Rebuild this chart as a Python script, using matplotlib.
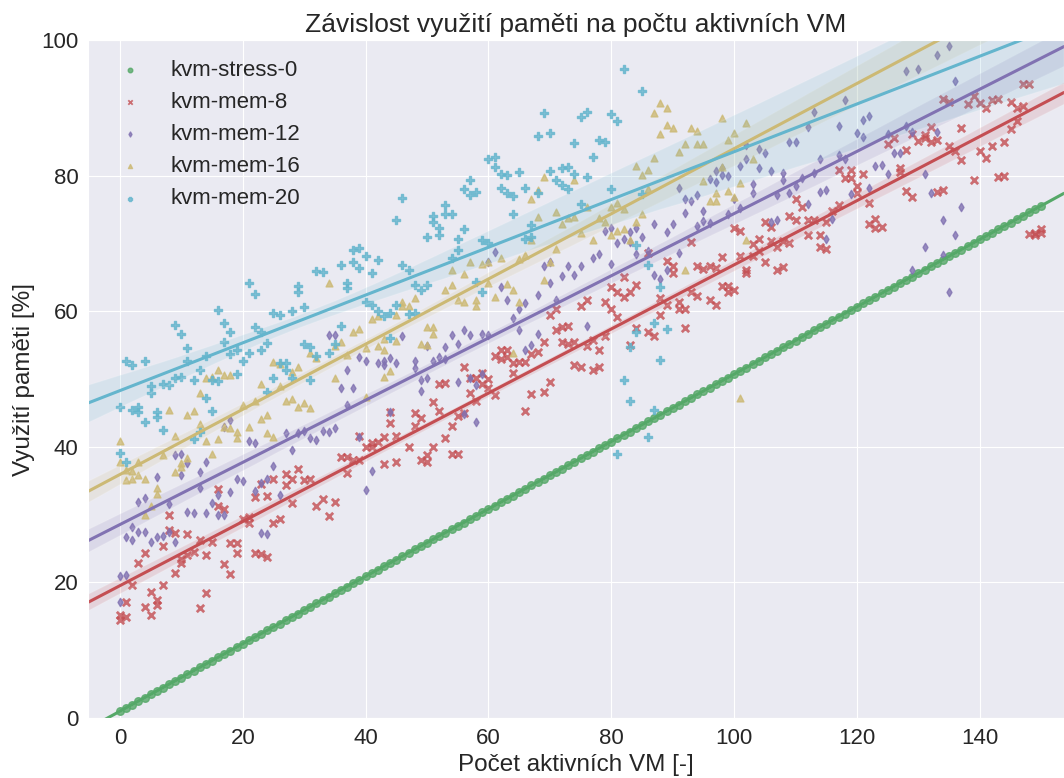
import matplotlib
matplotlib.use('Agg')
import matplotlib.pyplot as plt
import seaborn as sns

sns.set_style('darkgrid')
plt.rcParams['font.family'] = ['Liberation Sans', 'DejaVu Sans']

# kvm-stress-0: one sample per VM count, 0..150
stress_y = [1.00, 1.50, 1.99, 2.49, 2.99, 3.49, 3.98, 4.48, 4.98, 5.47,
            5.97, 6.47, 6.96, 7.46, 7.96, 8.46, 8.95, 9.45, 9.95, 10.44,
            10.94, 11.44, 11.93, 12.43, 12.93, 13.43, 13.92, 14.42, 14.92, 15.41,
            15.91, 16.41, 16.90, 17.40, 17.90, 18.40, 18.89, 19.39, 19.89, 20.38,
            20.88, 21.38, 21.87, 22.37, 22.87, 23.37, 23.86, 24.36, 24.86, 25.35,
            25.85, 26.35, 26.84, 27.34, 27.84, 28.34, 28.83, 29.33, 29.83, 30.32,
            30.82, 31.32, 31.81, 32.31, 32.81, 33.31, 33.80, 34.30, 34.80, 35.29,
            35.79, 36.29, 36.78, 37.28, 37.78, 38.28, 38.77, 39.27, 39.77, 40.26,
            40.76, 41.26, 41.75, 42.25, 42.75, 43.25, 43.74, 44.24, 44.74, 45.23,
            45.73, 46.23, 46.72, 47.22, 47.72, 48.22, 48.71, 49.21, 49.71, 50.20,
            50.70, 51.20, 51.69, 52.19, 52.69, 53.19, 53.68, 54.18, 54.68, 55.17,
            55.67, 56.17, 56.66, 57.16, 57.66, 58.16, 58.65, 59.15, 59.65, 60.14,
            60.64, 61.14, 61.63, 62.13, 62.63, 63.13, 63.62, 64.12, 64.62, 65.11,
            65.61, 66.11, 66.60, 67.10, 67.60, 68.10, 68.59, 69.09, 69.59, 70.08,
            70.58, 71.08, 71.57, 72.07, 72.57, 73.07, 73.56, 74.06, 74.56, 75.05, 75.55]
stress_x = list(range(len(stress_y)))

mem8_pts = [
    (0, 15.2), (0, 14.5), (1, 17.1), (1, 14.9), (2, 19.6), (3, 22.9), (4, 24.4), (4, 16.3), (5, 18.6), (5, 15.2),
    (6, 17.4), (6, 16.6), (7, 19.6), (7, 25.4), (8, 29.9), (8, 27.7), (9, 27.3), (9, 21.4), (10, 23.5), (10, 22.9),
    (11, 27.2), (11, 24.0), (12, 24.5), (13, 16.2), (13, 26.2), (14, 24.0), (14, 18.4), (15, 26.0), (16, 33.8), (16, 31.2),
    (17, 30.9), (17, 22.7), (18, 25.8), (18, 21.2), (19, 25.8), (19, 24.3), (20, 29.4), (21, 28.7), (21, 29.7), (22, 32.6),
    (22, 24.4), (23, 34.5), (23, 24.2), (24, 32.7), (24, 23.7), (25, 35.2), (25, 28.8), (26, 29.3), (27, 36.0), (27, 34.4),
    (28, 35.2), (28, 31.7), (29, 36.8), (30, 35.1), (31, 35.2), (32, 31.3), (33, 32.3), (34, 29.8), (35, 31.9), (36, 38.5),
    (37, 38.5), (37, 36.2), (38, 38.1), (39, 41.6), (39, 38.0), (40, 40.0), (41, 40.6), (41, 40.0), (42, 40.7), (43, 41.4),
    (43, 37.5), (44, 45.2), (44, 43.5), (45, 41.6), (45, 37.8), (47, 40.0), (48, 45.0), (48, 43.0), (49, 44.2), (49, 38.0),
    (50, 37.7), (50, 38.8), (51, 40.0), (51, 46.6), (52, 45.3), (52, 49.3), (53, 49.4), (53, 41.3), (54, 43.0), (54, 39.0),
    (55, 39.0), (55, 44.5), (56, 45.0), (56, 51.8), (57, 47.9), (57, 50.2), (58, 50.1), (58, 46.8), (59, 49.3), (59, 50.9),
    (60, 50.0), (60, 48.6), (61, 47.6), (61, 53.4), (62, 54.3), (62, 53.0), (63, 54.3), (63, 53.3), (64, 50.9), (64, 52.3),
    (65, 52.5), (66, 45.3), (66, 52.5), (67, 47.8), (67, 53.7), (68, 54.0), (69, 48.1), (69, 55.5), (70, 49.5), (70, 59.4),
    (71, 57.3), (71, 60.3), (72, 57.7), (72, 55.5), (73, 57.8), (73, 55.2), (74, 55.5), (74, 52.1), (75, 60.7), (75, 51.7),
    (76, 61.7), (76, 54.8), (77, 55.8), (77, 51.4), (78, 54.3), (78, 51.7), (79, 61.3), (79, 56.4), (80, 63.5), (80, 60.3),
    (81, 62.8), (81, 59.1), (82, 65.1), (82, 62.1), (83, 62.9), (83, 55.0), (84, 63.9), (84, 57.5), (86, 68.6), (86, 56.9),
    (87, 56.3), (88, 61.9), (88, 59.4), (89, 67.4), (89, 60.9), (90, 66.7), (90, 65.6), (91, 61.4), (91, 60.3), (92, 60.3),
    (92, 57.5), (93, 70.2), (93, 62.9), (94, 66.7), (94, 62.3), (95, 66.2), (96, 66.7), (96, 61.7), (97, 60.9), (97, 66.3),
    (98, 68.0), (98, 63.7), (99, 63.7), (99, 62.9), (100, 72.2), (100, 63.2), (101, 71.9), (101, 68.1), (102, 66.1), (102, 65.6),
    (103, 69.9), (103, 68.1), (104, 70.6), (104, 68.9), (105, 73.2), (105, 67.3), (106, 72.4), (106, 70.3), (107, 69.4), (107, 66.1),
    (108, 70.3), (108, 66.5), (109, 74.1), (109, 70.1), (110, 76.5), (110, 73.5), (111, 75.3), (112, 73.5), (112, 71.3), (113, 73.5),
    (114, 71.3), (114, 69.4), (115, 73.2), (115, 69.1), (116, 74.8), (117, 75.6), (117, 80.8), (118, 79.6), (119, 80.8), (119, 79.6),
    (120, 78.4), (120, 77.4), (121, 80.3), (122, 76.0), (122, 72.8), (123, 73.6), (123, 72.2), (124, 72.4), (125, 84.7), (126, 85.6),
    (127, 81.1), (127, 80.5), (128, 83.8), (128, 77.8), (129, 86.2), (129, 76.9), (130, 85.1), (131, 86.0), (131, 85.6), (132, 87.1),
    (132, 85.0), (133, 85.2), (133, 77.6), (134, 91.3), (134, 77.9), (135, 90.8), (135, 84.4), (136, 83.6), (137, 87.0), (137, 82.3),
    (138, 90.6), (139, 91.7), (139, 79.3), (140, 83.6), (140, 90.7), (141, 82.6), (141, 89.9), (142, 91.2), (142, 84.3), (143, 91.3),
    (143, 79.8), (144, 85.0), (144, 79.9), (145, 90.8), (145, 86.8), (146, 90.0), (146, 88.0), (147, 93.5), (147, 90.2), (148, 93.5),
    (148, 71.4), (149, 71.6), (149, 71.2), (150, 72.1), (150, 71.5)]

mem12_pts = [
    (0, 20.9), (1, 21.1), (0, 17.1), (1, 26.7), (2, 26.3), (2, 28.2), (3, 27.4), (4, 27.4), (3, 31.9), (4, 32.5),
    (5, 26.0), (6, 26.7), (6, 35.6), (7, 26.9), (8, 27.4), (8, 31.6), (9, 26.0), (9, 38.8), (10, 38.9), (10, 35.8),
    (11, 37.6), (11, 30.4), (12, 30.2), (13, 36.3), (13, 33.9), (14, 37.8), (14, 30.2), (15, 31.7), (16, 32.9), (16, 29.9),
    (17, 30.0), (17, 42.9), (18, 33.4), (18, 43.9), (19, 35.2), (20, 34.9), (21, 40.9), (22, 40.5), (22, 33.5), (23, 34.6),
    (23, 27.3), (24, 35.2), (24, 27.2), (25, 37.1), (26, 32.9), (27, 42.0), (28, 39.6), (29, 42.0), (30, 42.4), (31, 41.3),
    (32, 41.0), (33, 42.4), (34, 42.2), (34, 56.5), (35, 42.7), (35, 56.5), (36, 48.6), (37, 46.2), (37, 51.3), (38, 48.6),
    (39, 41.5), (39, 53.3), (40, 33.6), (40, 52.6), (41, 36.5), (42, 52.4), (43, 52.6), (43, 52.1), (44, 45.2), (44, 53.1),
    (45, 52.4), (46, 56.3), (48, 52.7), (48, 51.6), (49, 49.9), (49, 48.3), (50, 50.1), (50, 54.9), (51, 52.7), (52, 53.2),
    (53, 54.7), (53, 53.0), (54, 56.5), (55, 49.6), (55, 55.2), (56, 44.9), (56, 57.2), (57, 50.1), (57, 56.5), (58, 49.1),
    (58, 43.7), (59, 50.8), (59, 56.6), (60, 56.5), (60, 67.3), (61, 68.8), (62, 63.5), (63, 61.6), (64, 59.0), (65, 57.2),
    (65, 60.3), (66, 61.2), (66, 54.3), (67, 55.0), (68, 62.4), (68, 56.6), (69, 66.7), (70, 67.3), (70, 64.2), (71, 61.7),
    (72, 65.2), (73, 66.7), (74, 65.4), (75, 66.6), (76, 57.8), (77, 67.9), (78, 68.5), (79, 71.9), (80, 72.2), (80, 67.0),
    (81, 70.0), (82, 70.6), (83, 71.7), (83, 70.2), (84, 72.3), (84, 68.5), (85, 71.0), (86, 68.9), (87, 72.8), (87, 65.4),
    (88, 64.7), (89, 71.7), (89, 66.1), (90, 72.9), (91, 78.1), (91, 68.6), (92, 76.5), (92, 74.5), (93, 76.3), (94, 77.1),
    (94, 72.6), (95, 74.8), (95, 73.3), (96, 79.5), (96, 73.0), (97, 80.7), (97, 79.1), (98, 81.1), (98, 80.1), (99, 80.0),
    (99, 74.4), (100, 76.5), (101, 81.4), (101, 75.2), (102, 82.5), (102, 84.5), (103, 78.7), (103, 77.4), (104, 83.9), (104, 81.1),
    (105, 83.3), (106, 80.7), (106, 73.2), (107, 77.1), (107, 73.5), (108, 80.4), (108, 79.4), (109, 85.0), (109, 77.4), (110, 84.9),
    (110, 78.4), (111, 79.7), (112, 87.1), (112, 75.8), (113, 89.4), (113, 80.4), (114, 82.5), (114, 77.6), (115, 77.9), (115, 70.6),
    (116, 73.6), (117, 87.3), (117, 83.0), (118, 91.2), (118, 82.4), (119, 77.3), (120, 86.3), (121, 88.2), (121, 85.7), (122, 88.8),
    (122, 78.2), (123, 81.4), (124, 81.6), (125, 86.2), (125, 80.2), (126, 83.4), (127, 83.4), (128, 87.3), (128, 95.5), (129, 86.5),
    (129, 66.1), (130, 95.7), (131, 80.3), (131, 69.4), (132, 77.5), (133, 97.8), (133, 86.5), (134, 73.4), (134, 68.3), (135, 99.1),
    (135, 62.8), (136, 93.9), (136, 71.2), (137, 75.4)]

mem16_pts = [
    (0, 40.8), (0, 37.8), (1, 36.6), (1, 35.1), (2, 36.5), (2, 35.2), (3, 35.9), (3, 37.7), (4, 35.2), (4, 30.0),
    (5, 31.3), (6, 33.9), (6, 33.1), (7, 38.8), (8, 45.5), (9, 41.6), (9, 36.3), (10, 37.6), (10, 37.0), (11, 38.3),
    (11, 44.7), (12, 45.3), (13, 48.0), (13, 43.3), (14, 40.8), (14, 50.1), (15, 38.9), (15, 50.3), (16, 41.1), (16, 51.3),
    (17, 42.9), (17, 50.6), (18, 42.8), (18, 50.6), (19, 41.3), (19, 42.2), (20, 46.2), (21, 42.9), (22, 46.8), (23, 49.3),
    (23, 44.1), (24, 44.7), (24, 42.1), (25, 41.5), (25, 52.5), (26, 49.0), (26, 52.2), (27, 46.7), (28, 47.0), (28, 51.1),
    (29, 45.9), (29, 51.7), (30, 46.5), (31, 45.7), (31, 53.8), (32, 53.1), (34, 64.1), (35, 54.8), (35, 50.2), (36, 55.5),
    (37, 53.5), (38, 56.9), (39, 57.4), (40, 54.5), (40, 47.4), (41, 58.8), (42, 59.3), (42, 54.8), (43, 54.3), (43, 55.9),
    (43, 50.3), (44, 51.2), (45, 59.5), (45, 55.6), (46, 61.4), (46, 60.7), (47, 60.8), (48, 61.9), (49, 55.1), (50, 55.0),
    (50, 57.6), (51, 57.6), (51, 56.6), (53, 63.1), (54, 63.9), (54, 66.1), (55, 61.7), (56, 61.4), (56, 65.5), (57, 67.3),
    (58, 61.7), (58, 60.8), (59, 67.0), (60, 67.3), (60, 64.2), (61, 62.1), (62, 67.8), (63, 64.0), (64, 63.2), (64, 53.8),
    (65, 61.4), (65, 67.7), (66, 68.3), (67, 76.5), (67, 70.5), (68, 77.9), (68, 73.9), (69, 79.8), (69, 64.6), (70, 67.2),
    (71, 74.6), (71, 69.2), (72, 72.9), (73, 73.7), (74, 79.3), (74, 73.9), (75, 71.6), (76, 75.3), (77, 70.5), (78, 73.8),
    (79, 73.2), (80, 71.3), (80, 75.3), (81, 75.9), (81, 71.9), (82, 72.1), (82, 75.0), (83, 70.5), (84, 81.4), (84, 73.1),
    (85, 80.1), (85, 74.4), (86, 80.8), (86, 78.0), (87, 89.3), (87, 82.6), (88, 90.7), (88, 86.2), (89, 90.0), (89, 87.5),
    (90, 87.0), (91, 83.5), (92, 84.7), (92, 66.1), (93, 87.0), (94, 86.6), (94, 84.7), (95, 84.6), (95, 79.2), (96, 76.2),
    (97, 76.2), (97, 77.5), (98, 88.5), (98, 81.3), (99, 85.3), (99, 77.7), (100, 86.3), (100, 76.8), (101, 78.9), (101, 47.2),
    (102, 87.8), (102, 70.5), (103, 82.5)]

mem20_pts = [
    (0, 45.8), (0, 39.1), (1, 37.8), (1, 52.6), (2, 52.1), (2, 45.4), (3, 45.8), (3, 45.1), (4, 52.6), (4, 43.6),
    (5, 48.9), (5, 48.0), (6, 45.1), (6, 44.4), (7, 42.5), (7, 49.3), (8, 49.1), (9, 58.0), (9, 50.2), (10, 56.6),
    (10, 50.3), (11, 54.5), (11, 52.6), (12, 49.9), (12, 41.2), (13, 42.2), (13, 51.3), (14, 53.4), (14, 47.2), (15, 45.3),
    (15, 49.9), (16, 49.7), (16, 60.2), (17, 58.3), (17, 55.5), (18, 56.9), (18, 53.7), (19, 54.3), (19, 50.8), (20, 52.6),
    (21, 64.2), (21, 53.8), (22, 62.5), (22, 57.7), (23, 56.9), (23, 54.3), (24, 55.3), (24, 48.1), (25, 59.8), (25, 50.2),
    (26, 59.5), (26, 52.4), (27, 52.3), (27, 51.3), (28, 60.1), (28, 50.2), (29, 63.7), (29, 62.9), (30, 60.6), (30, 55.2),
    (31, 54.7), (31, 49.9), (32, 66.0), (32, 53.4), (33, 65.8), (34, 53.8), (35, 55.2), (36, 57.8), (36, 66.8), (37, 64.1),
    (37, 63.4), (38, 69.0), (38, 67.3), (39, 69.3), (39, 66.3), (40, 68.1), (40, 61.4), (41, 65.7), (41, 60.9), (42, 67.5),
    (42, 60.1), (43, 59.3), (44, 59.8), (44, 56.0), (45, 73.4), (45, 60.9), (46, 76.7), (46, 66.8), (47, 66.1), (47, 59.6),
    (48, 59.7), (48, 63.9), (49, 63.1), (50, 63.9), (50, 71.0), (51, 74.0), (51, 73.2), (52, 72.3), (52, 71.2), (53, 75.7),
    (53, 74.3), (54, 74.4), (54, 67.8), (55, 70.7), (55, 69.0), (56, 78.0), (56, 72.1), (57, 79.4), (57, 77.1), (58, 77.6),
    (58, 64.3), (59, 70.5), (59, 62.9), (60, 82.5), (60, 70.0), (61, 82.8), (61, 81.2), (62, 80.3), (62, 78.1), (63, 80.1),
    (63, 77.4), (64, 77.0), (64, 74.3), (65, 80.5), (66, 78.1), (66, 70.6), (67, 72.7), (67, 71.0), (68, 85.9), (68, 77.4),
    (69, 89.2), (70, 86.3), (70, 80.7), (71, 79.3), (72, 81.1), (72, 78.6), (73, 81.2), (73, 78.0), (74, 84.8), (74, 80.3),
    (75, 88.6), (75, 75.8), (76, 89.4), (76, 79.8), (77, 82.7), (78, 85.3), (79, 85.0), (80, 89.1), (80, 78.0), (81, 88.1),
    (81, 39.0), (82, 95.7), (82, 49.9), (83, 54.7), (83, 46.8), (84, 69.8), (84, 57.0), (85, 92.5), (85, 77.3), (86, 66.8),
    (86, 41.4), (87, 58.3), (87, 45.4), (88, 63.5), (88, 52.8), (89, 57.4)]

labels = ['kvm-stress-0', 'kvm-mem-8', 'kvm-mem-12', 'kvm-mem-16', 'kvm-mem-20']
mycolors = ['#55A868', '#C44E52', '#8172B2', '#CCB974', '#64B5CD']
mymarkers = ['o', 'x', 'd', '^', 'P']
mysizes = [30, 28, 18, 24, 28]

series = [(stress_x, stress_y)]
for pts in [mem8_pts, mem12_pts, mem16_pts, mem20_pts]:
    xs, ys = zip(*pts)
    series.append((list(xs), list(ys)))

fig = plt.figure(figsize=(10.64, 7.78), dpi=100)
ax = fig.add_axes([0.0827, 0.0771, 0.9173, 0.8715])
ax.set_xlim(-5.2, 153.7)
ax.set_ylim(0, 100)

for cnt in range(len(labels)):
    xdata, ydata = series[cnt]
    skws = {'s': mysizes[cnt]}
    if mymarkers[cnt] == 'x':
        skws['linewidths'] = 2
    sns.regplot(x=xdata, y=ydata, ax=ax, color=mycolors[cnt], marker=mymarkers[cnt],
                label=labels[cnt], truncate=False, seed=1,
                scatter_kws=skws, line_kws={'lw': 2.2})

ax.set_xlim(-5.2, 153.7)
ax.set_ylim(0, 100)
ax.set_xticks([0, 20, 40, 60, 80, 100, 120, 140])
ax.set_yticks([0, 20, 40, 60, 80, 100])
ax.tick_params(labelsize=16)

leg = ax.legend(loc='upper left', fontsize=16, markerscale=0.6, frameon=False)
# thinner cross in the legend so it stays readable at the small size
leg.legend_handles[1].set_linewidths([1.3])
ax.set_xlabel('Počet aktivních VM [-]', fontsize=17.5)
ax.set_ylabel('Využití paměti [%]', fontsize=17.5)
ax.set_title('Závislost využití paměti na počtu aktivních VM', fontsize=19, pad=6)

fig.savefig('out.png', dpi=100)
